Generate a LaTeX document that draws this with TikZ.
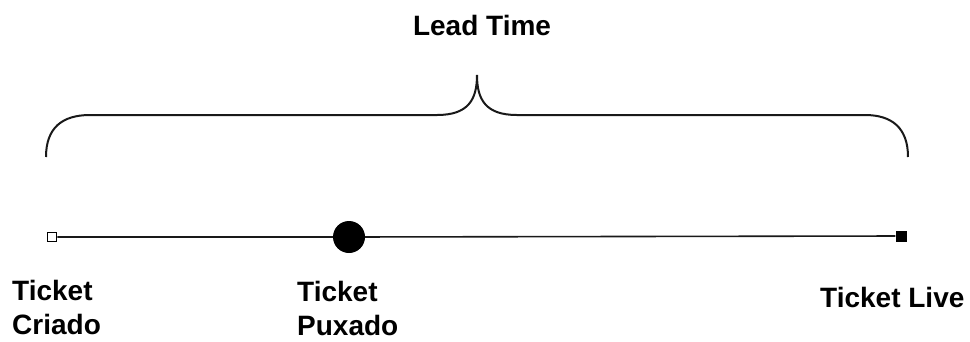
\documentclass[tikz,border=0pt]{standalone}
\usepackage{fontspec}
\setmainfont{Liberation Sans}
\begin{document}
\begin{tikzpicture}[x=1pt,y=-1pt,
  lbl/.style={font=\fontsize{28}{34}\selectfont\bfseries, inner sep=0pt, anchor=base west, align=left},
  axis/.style={line width=1.6pt, black!90},
  bracepath/.style={line width=2pt, black!90}]
\useasboundingbox (0,0) rectangle (970,341);
% brace
\coordinate (bl) at (46,157);
\coordinate (br) at (908,157);
\coordinate (tip) at (477,75);
\draw[bracepath] (bl) .. controls (46,128) and (62,115) .. (90,115) -- (437,115)
  .. controls (468,115) and (477,100) .. (tip)
  .. controls (477,100) and (486,115) .. (517,115) -- (865,115)
  .. controls (892,115) and (908,128) .. (br);
\node[font=\fontsize{28}{34}\selectfont\bfseries, inner sep=0pt, anchor=base] (lead) at (482,35) {Lead Time};
% timeline
\node[draw, line width=1.6pt, fill=white, minimum size=9pt, inner sep=0pt] (s) at (52,237) {};
\node[circle, fill=black, minimum size=32pt, inner sep=0pt] (m) at (349,237) {};
\node[fill=black, minimum size=11pt, inner sep=0pt] (e) at (901,236) {};
\draw[axis] (s) -- (m) -- (e);
% labels
\node[lbl] (l1) at (12,334) {Ticket\\Criado};
\node[lbl] (l2) at (297,335) {Ticket\\Puxado};
\node[lbl] (l3) at (820,307) {Ticket Live};
\end{tikzpicture}
\end{document}
